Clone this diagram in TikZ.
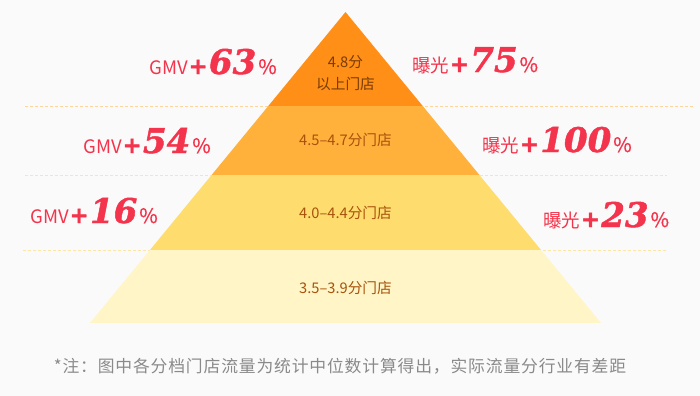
\documentclass[tikz,border=0pt]{standalone}
\usepackage{fontspec}
\usepackage{tikz}
\setmainfont{Noto Sans CJK SC}
\newfontfamily\numfam{DejaVu Serif}[BoldItalicFeatures={FakeBold=1.4}]
\newfontfamily\plusfam{DejaVu Sans}[BoldItalicFeatures={FakeBold=2}]
\definecolor{bgpaper}{RGB}{250,250,250}
\definecolor{tierone}{RGB}{255,143,22}
\definecolor{tiertwo}{RGB}{255,177,59}
\definecolor{tierthree}{RGB}{255,220,110}
\definecolor{tierfour}{RGB}{255,245,198}
\definecolor{gainred}{RGB}{244,52,76}
\definecolor{tierink}{RGB}{168,82,12}
\definecolor{tierinktop}{RGB}{120,60,6}
\definecolor{guidetop}{RGB}{253,214,156}
\definecolor{guide}{RGB}{252,230,164}
\definecolor{noteink}{RGB}{138,138,138}
\newcommand{\tierband}[3]{%
  \fill[#3] (0,#1) rectangle (700,#2);
}
\newcommand{\gain}[1]{%
  \kern0.5pt{\plusfam\bfseries\itshape\fontsize{17}{17}\selectfont+}\kern1pt%
  {\numfam\bfseries\itshape\fontsize{25.5}{26}\selectfont #1}\kern1.5pt%
  {\fontsize{15}{15}\addfontfeatures{FakeBold=0.8}\selectfont\%}%
}
\tikzset{
  gmvlabel/.style={anchor=base east,inner sep=0pt,text=gainred,
    font=\fontsize{13.9}{16}\selectfont},
  viewlabel/.style={anchor=base west,inner sep=0pt,text=gainred,
    font=\fontsize{13.9}{16}\selectfont},
  tiertext/.style={text=tierink,font=\fontsize{11}{16.5}\selectfont,align=center},
  guideline/.style={line width=0.75pt,dash pattern=on 2.25pt off 1.5pt}
}

\begin{document}
\begin{tikzpicture}[x=0.75pt,y=-0.75pt]
    \useasboundingbox (0,0) rectangle (700,396);
    \fill[bgpaper] (0,0) rectangle (700,396);
    \draw[guideline,guidetop] (25,106) -- (695,106);
    \draw[guideline,guide] (25,175) -- (667,175);
    \draw[guideline,guide] (23,250) -- (668,250);
    \begin{scope}
      \clip (90,323) -- (345.5,12) -- (601,323) -- cycle;
      \tierband{0}{106}{tierone}
      \tierband{106}{175}{tiertwo}
      \tierband{175}{250}{tierthree}
      \tierband{250}{323}{tierfour}
    \end{scope}
    \node[tiertext,text=tierinktop] (tierA) at (345.5,73.5) {4.8分\\以上门店};
    \node[tiertext] (tierB) at (345.5,140) {4.5–4.7分门店};
    \node[tiertext] (tierC) at (345.5,213) {4.0–4.4分门店};
    \node[tiertext] (tierD) at (345.5,288) {3.5–3.9分门店};
    \node[gmvlabel] (gmvA) at (277,74) {GMV\gain{63}};
    \node[gmvlabel] (gmvB) at (211,153) {GMV\gain{54}};
    \node[gmvlabel] (gmvC) at (158,223) {GMV\gain{16}};
    \node[viewlabel] (viewA) at (412,72) {曝光\gain{75}};
    \node[viewlabel] (viewB) at (482,152) {曝光\gain{100}};
    \node[viewlabel] (viewC) at (543,227) {曝光\gain{23}};
    \node[text=noteink,font=\fontsize{12.6}{15}\addfontfeatures{LetterSpace=5}\selectfont]
      (note) at (340,366) {*注：图中各分档门店流量为统计中位数计算得出，实际流量分行业有差距};
  \end{tikzpicture}
\end{document}
